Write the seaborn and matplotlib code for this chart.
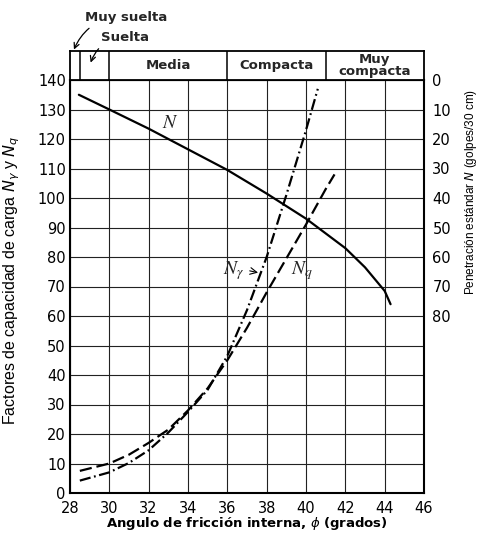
import numpy as np
import pandas as pd
import matplotlib
matplotlib.use("Agg")
import matplotlib.pyplot as plt
import seaborn as sns

# ---------------- data ----------------
phi_N = [28.45, 30, 32, 34, 36, 38, 40, 42, 43, 44, 44.3]
N_vals = [5, 10, 16.5, 23.5, 30.5, 38.5, 47, 57, 63.5, 71.5, 76]

phi_g = [28.5, 30, 31, 32, 33, 34, 35, 36, 37, 38, 39, 40, 40.6]
Ng_vals = [4.2, 7, 10.2, 14.5, 20.5, 27.5, 35, 46.5, 62, 80, 101, 123, 137]

phi_q = [28.5, 30, 31, 32, 33, 34, 35, 36, 37, 38, 39, 40, 41, 41.45]
Nq_vals = [7.5, 10, 13, 17, 21.5, 28, 35.5, 45, 56, 68, 79.5, 91, 103, 108]

x_ticks = list(range(28, 47, 2))
left_ticks = list(range(0, 141, 10))
right_ticks = list(range(0, 81, 10))

band_edges = [28, 28.5, 30, 36, 41, 46]
band_labels = ["", "", "Media", "Compacta", "Muy\ncompacta"]

# ---------------- style ----------------
sns.set_theme(style="white")
plt.rcParams["font.family"] = ["DejaVu Sans"]

W, H = 479, 533
fig = plt.figure(figsize=(W / 100, H / 100), dpi=100)
L_px, R_px, T_px, B_px = 70, 424, 80, 493
ax = fig.add_axes([L_px / W, 1 - B_px / H, (R_px - L_px) / W, (B_px - T_px) / H])

df_g = pd.DataFrame({"phi": phi_g, "val": Ng_vals})
df_q = pd.DataFrame({"phi": phi_q, "val": Nq_vals})
df_N = pd.DataFrame({"phi": phi_N, "val": N_vals})

sns.lineplot(data=df_g, x="phi", y="val", ax=ax, color="black", lw=1.6,
             sort=False, estimator=None, linestyle=(0, (5, 1.6, 0.8, 1.6)))
sns.lineplot(data=df_q, x="phi", y="val", ax=ax, color="black", lw=1.6,
             sort=False, estimator=None, linestyle=(0, (5.5, 2.2)))

ax.set_xlim(28, 46)
ax.set_ylim(0, 140)
ax.set_xticks(x_ticks)
ax.set_yticks(left_ticks)
ax.grid(True, color="#222222", lw=0.8)
ax.set_axisbelow(True)
ax.tick_params(axis="y", length=0, labelsize=10.5, pad=3, colors="black")
ax.tick_params(axis="x", length=0, labelsize=10.5, pad=6, colors="black")
for s in ax.spines.values():
    s.set_color("black")
    s.set_linewidth(1.5)

ax.set_xlabel(r"Angulo de fricción interna, $\phi$ (grados)", fontsize=9.5,
              fontweight="bold", labelpad=-1, color="black")
ax.set_ylabel(r"Factores de capacidad de carga $N_\gamma$ y $N_q$",
              fontsize=11.5, family="Liberation Sans", color="black")
ax.yaxis.set_label_coords(-0.135, 0.515)

ax2 = ax.twinx()
sns.lineplot(data=df_N, x="phi", y="val", ax=ax2, color="black", lw=1.6,
             sort=False, estimator=None)
ax2.set_ylim(140, 0)
ax2.set_yticks(right_ticks)
ax2.tick_params(length=0, labelsize=10.5, pad=6, colors="black")
ax2.grid(False)
for s in ax2.spines.values():
    s.set_visible(False)
ax2.set_ylabel(r"Penetración estándar $N$ (golpes/30 cm)",
               fontsize=8.5, family="Liberation Sans", color="black")
ax2.yaxis.set_label_coords(1.11, 0.73)

# curve labels
ax.text(33.1, 125.5, "$N$", fontsize=14, math_fontfamily="stix", ha="center", va="center")
ax.text(36.3, 75.5, r"$N_\gamma$", fontsize=14, math_fontfamily="stix", ha="center", va="center")
ax.annotate("", xy=(37.7, 74.5), xytext=(37.0, 75.5),
            arrowprops=dict(arrowstyle="->", lw=0.8, color="black"))
ax.text(39.8, 75.5, r"$N_q$", fontsize=14, math_fontfamily="stix", ha="center", va="center")

# density band
band = fig.add_axes([L_px / W, 1 - T_px / H, (R_px - L_px) / W, 29 / H])
band.set_xlim(28, 46)
band.set_ylim(0, 1)
band.set_xticks([])
band.set_yticks([])
band.set_facecolor("white")
for s in band.spines.values():
    s.set_color("black")
    s.set_linewidth(1.3)
for e in band_edges[1:-1]:
    band.axvline(e, color="black", lw=1.1)
for i, lab in enumerate(band_labels):
    if lab:
        mid = (band_edges[i] + band_edges[i + 1]) / 2
        band.text(mid, 0.5, lab, ha="center", va="center", fontsize=9.5,
                  fontweight="bold", linespacing=0.85)

band.annotate("Muy suelta", xy=(28.2, 1.05), xytext=(28.75, 2.15),
              fontsize=9.5, fontweight="bold", va="center", ha="left",
              annotation_clip=False,
              arrowprops=dict(arrowstyle="->", lw=0.9, color="black",
                              connectionstyle="arc3,rad=0.35",
                              shrinkA=1, shrinkB=0))
band.annotate("Suelta", xy=(29.05, 0.6), xytext=(29.6, 1.45),
              fontsize=9.5, fontweight="bold", va="center", ha="left",
              annotation_clip=False,
              arrowprops=dict(arrowstyle="->", lw=0.9, color="black",
                              connectionstyle="arc3,rad=0.35",
                              shrinkA=1, shrinkB=0))

fig.savefig("out.png", dpi=100)
